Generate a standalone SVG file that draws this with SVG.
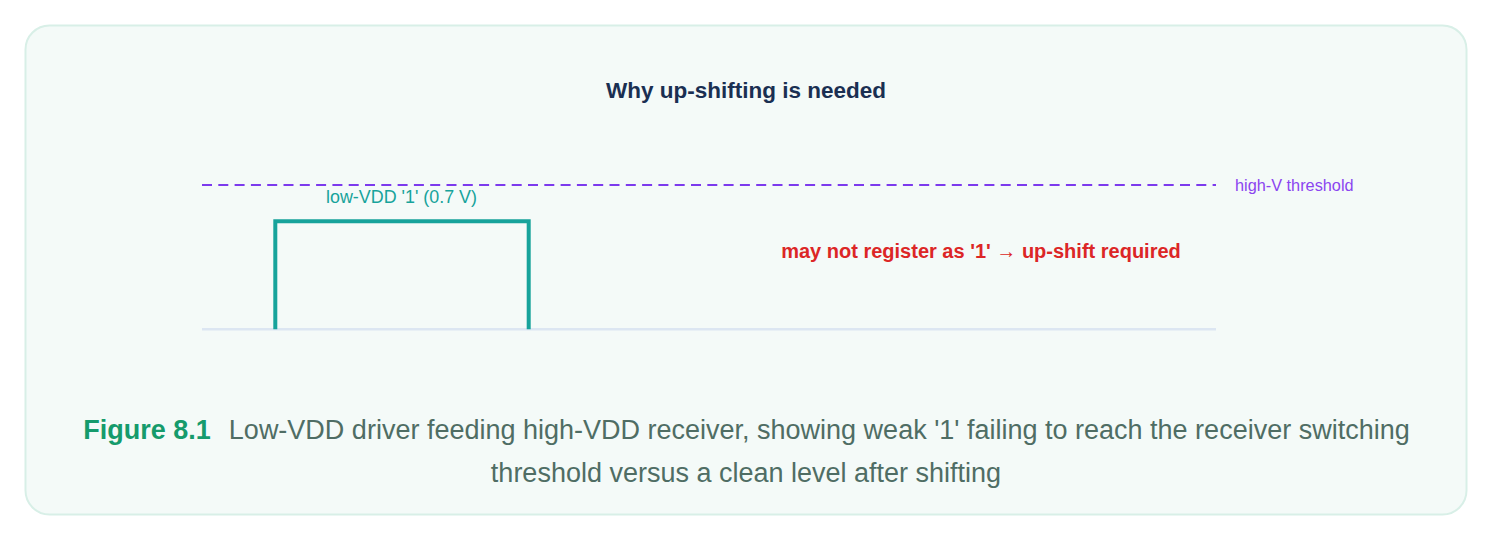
<svg xmlns="http://www.w3.org/2000/svg" width="1494" height="540" viewBox="0 0 1494 540">
<style>
.t{font-family:"Liberation Sans",Arial,sans-serif}
.b{font-weight:bold}
</style>
<rect width="1494" height="540" fill="#ffffff"/>
<g id="frame">
<rect x="25.5" y="25.5" width="1441" height="489" rx="24" fill="#f4faf8" stroke="#d8efe7" stroke-width="2"/>
</g>
<g id="title">
<text class="t b" x="746" y="97.5" font-size="22.5" fill="#1a2f52" text-anchor="middle">Why up-shifting is needed</text>
</g>
<g id="connectors">
<line id="baseline" x1="202" y1="329.3" x2="1216" y2="329.3" stroke="#dce6f2" stroke-width="2.5"/>
<line id="threshold" x1="202" y1="185" x2="1216" y2="185" stroke="#7c3aed" stroke-width="2" stroke-dasharray="10 6.3"/>
<polyline id="pulse" points="275.3,329.3 275.3,221.3 528.7,221.3 528.7,329.3" fill="none" stroke="#17a39b" stroke-width="4"/>
</g>
<g id="labels">
<text class="t" x="1235" y="190.5" font-size="16.3" fill="#8b45f0">high-V threshold</text>
<text class="t" x="401.5" y="203.3" font-size="17.9" fill="#17a39b" text-anchor="middle">low-VDD '1' (0.7 V)</text>
<text class="t b" x="981" y="257.7" font-size="20" fill="#dc2626" text-anchor="middle">may not register as '1' → up-shift required</text>
</g>
<g id="caption">
<text class="t" x="746.5" y="439.3" font-size="27" fill="#4f6d64" text-anchor="middle"><tspan class="b" fill="#159b6c">Figure 8.1</tspan><tspan dx="18">Low-VDD driver feeding high-VDD receiver, showing weak '1' failing to reach the receiver switching</tspan></text>
<text class="t" x="746" y="481.5" font-size="27" fill="#4f6d64" text-anchor="middle">threshold versus a clean level after shifting</text>
</g>
</svg>
